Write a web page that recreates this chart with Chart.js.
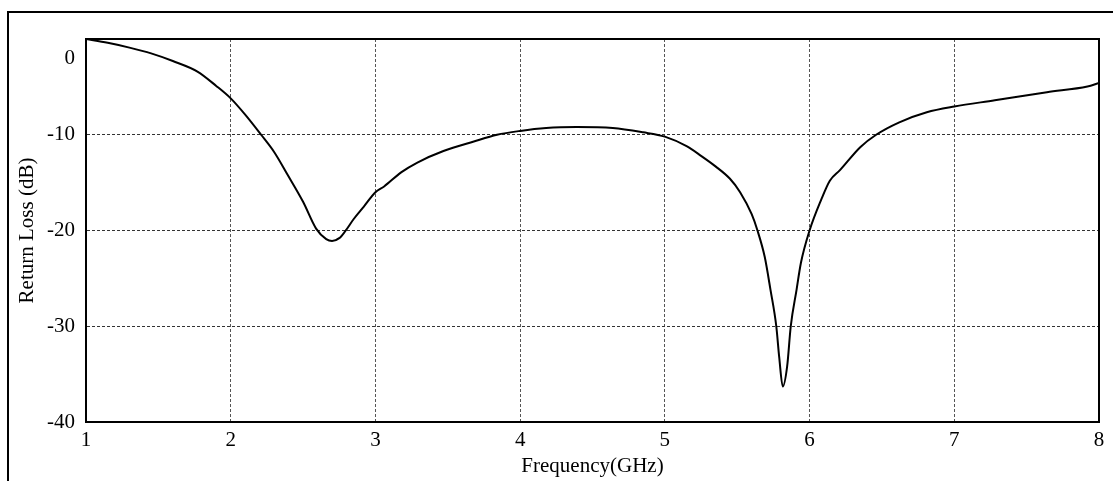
<!DOCTYPE html>
<html>
<head>
<meta charset="utf-8">
<script src="https://cdn.jsdelivr.net/npm/chart.js@4/dist/chart.umd.min.js"></script>
<style>
  html, body { margin: 0; padding: 0; background: #fff; }
  #wrap { position: relative; width: 1113px; height: 481px; overflow: hidden; }
  #frame { position: absolute; left: 7px; top: 11px; width: 1200px; height: 600px;
           border-top: 2px solid #000; border-left: 2px solid #000; }
  #c { position: absolute; left: 0; top: 0; }
</style>
</head>
<body>
<div id="wrap">
  <div id="frame"></div>
  <canvas id="c" width="1113" height="481"></canvas>
</div>
<script>
// Frequency (GHz)
const frequency = [1.0, 1.15, 1.3, 1.45, 1.6, 1.77, 1.9, 2.0, 2.1, 2.21, 2.3, 2.39, 2.5, 2.59, 2.66,
  2.7, 2.75, 2.79, 2.85, 2.92, 3.0, 3.06, 3.18, 3.29, 3.47, 3.68, 3.84, 4.0, 4.18, 4.39, 4.64,
  4.85, 5.0, 5.15, 5.25, 5.35, 5.45, 5.52, 5.6, 5.64, 5.69, 5.73, 5.77, 5.79, 5.815, 5.845, 5.87,
  5.91, 5.94, 6.0, 6.08, 6.14, 6.21, 6.35, 6.46, 6.62, 6.81, 7.0, 7.28, 7.64, 7.92, 8.0];
// Return loss (dB)
const returnLoss = [0.0, -0.4, -0.9, -1.5, -2.3, -3.4, -4.9, -6.2, -7.9, -10.0, -11.8, -14.1, -17.0, -19.8, -20.9,
  -21.1, -20.8, -20.1, -18.8, -17.5, -16.0, -15.4, -13.9, -12.9, -11.7, -10.7, -10.0, -9.6, -9.3, -9.2, -9.3,
  -9.75, -10.2, -11.2, -12.2, -13.3, -14.6, -16.0, -18.3, -20.0, -22.75, -26.2, -30.0, -33.2, -36.3, -34.2, -30.0,
  -26.2, -23.4, -20.0, -16.8, -14.8, -13.7, -11.3, -10.0, -8.7, -7.65, -7.05, -6.4, -5.55, -4.97, -4.6];
const xTicks = [1, 2, 3, 4, 5, 6, 7, 8];
const yTicks = [-40, -30, -20, -10, 0];
const xTitle = 'Frequency(GHz)';
const yTitle = 'Return Loss (dB)';

const FONT = { family: '"Liberation Serif", "Times New Roman", serif', size: 21 };

const points = frequency.map((f, i) => ({ x: f, y: returnLoss[i] }));

const framePlugin = {
  id: 'frameAndZero',
  afterDraw(chart) {
    const { ctx, chartArea: a, scales } = chart;
    ctx.save();
    ctx.strokeStyle = '#000';
    ctx.lineWidth = 2;
    ctx.strokeRect(a.left, a.top, a.right - a.left, a.bottom - a.top);
    // the "0" tick label sits a little below its value line in the original
    ctx.fillStyle = '#000';
    ctx.font = FONT.size + 'px ' + FONT.family;
    ctx.textAlign = 'right';
    ctx.textBaseline = 'middle';
    ctx.fillText(String(yTicks[yTicks.length - 1]), a.left - 11, scales.y.getPixelForValue(0) + 19);
    ctx.restore();
  }
};

new Chart(document.getElementById('c'), {
  type: 'line',
  data: {
    datasets: [{
      data: points,
      borderColor: '#000',
      borderWidth: 2,
      pointRadius: 0,
      fill: false,
      cubicInterpolationMode: 'monotone'
    }]
  },
  options: {
    responsive: false,
    animation: false,
    events: [],
    layout: { padding: { top: 39, right: 14, left: 0, bottom: 0 } },
    plugins: { legend: { display: false }, tooltip: { enabled: false } },
    scales: {
      x: {
        type: 'linear',
        min: xTicks[0],
        max: xTicks[xTicks.length - 1],
        afterBuildTicks(scale) { scale.ticks = xTicks.map(v => ({ value: v })); },
        afterFit(scale) { scale.height = 59; },
        ticks: { color: '#000', font: FONT, padding: 6, maxRotation: 0, autoSkip: false,
                 callback: v => String(v) },
        grid: {
          drawTicks: false,
          lineWidth: 1,
          color: ctx => (ctx.tick && (ctx.tick.value === xTicks[0] || ctx.tick.value === xTicks[xTicks.length - 1])) ? 'rgba(0,0,0,0)' : '#555'
        },
        border: { display: true, color: '#000', width: 2, dash: [3, 2] },
        title: { display: true, text: xTitle, color: '#000', font: FONT, padding: { top: 0, bottom: 2 } }
      },
      y: {
        type: 'linear',
        min: yTicks[0],
        max: yTicks[yTicks.length - 1],
        afterBuildTicks(scale) { scale.ticks = yTicks.map(v => ({ value: v })); },
        afterFit(scale) { scale.width = 86; },
        ticks: { color: '#000', font: FONT, padding: 11,
                 callback: v => (v === yTicks[yTicks.length - 1] ? '' : String(v)) },
        grid: {
          drawTicks: false,
          lineWidth: 1,
          color: ctx => (ctx.tick && (ctx.tick.value === yTicks[0] || ctx.tick.value === yTicks[yTicks.length - 1])) ? 'rgba(0,0,0,0)' : '#333'
        },
        border: { display: true, color: '#000', width: 2, dash: [3, 2] },
        title: { display: true, text: yTitle, color: '#000', font: FONT, padding: { top: 15, bottom: 0 } }
      }
    }
  },
  plugins: [framePlugin]
});
</script>
</body>
</html>
